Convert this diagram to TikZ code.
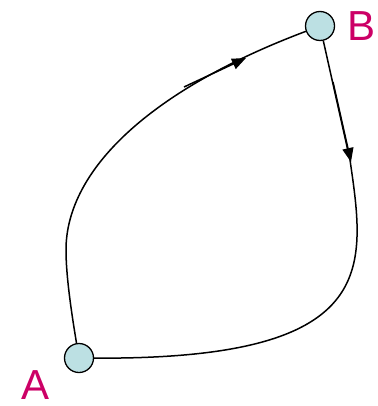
\documentclass[tikz,border=0pt]{standalone}
\usepackage{fontspec}
\setmainfont{Liberation Sans}
\usepackage{xcolor}
\usepackage{tikz}
\usetikzlibrary{arrows.meta,positioning}

\definecolor{vertfill}{HTML}{BCE0E3}
\definecolor{labelpink}{HTML}{CC0066}

\begin{document}
\begin{tikzpicture}[
      x=1pt, y=-1pt,
      vert/.style={draw, circle, fill=vertfill, line width=1.3pt, minimum size=29pt, inner sep=0pt},
      lbl/.style={text=labelpink, font=\fontsize{42}{42}\selectfont, inner sep=0pt},
      edge/.style={line width=1.5pt},
      arr/.style={-{Triangle[length=14pt, width=11pt]}, line width=1.5pt},
    ]
    \useasboundingbox (0,0) rectangle (377,406);
    \node[vert] (a) at (79,358) {};
    \node[vert] (b) at (320,26) {};
    \node[lbl, anchor=south east] (la) at (50,400) {A};
    \node[lbl, anchor=north west] (lb) at (347,11) {B};
    % bends of the two paths
    \coordinate (bendl) at (66,250);
    \coordinate (bendr) at (350,160);
    \draw[edge] (a) .. controls (71,310) and (66,275) .. (bendl)
      .. controls (66,170) and (150,90) .. (b);
    \draw[edge] (b) -- (bendr)
      .. controls (366,270) and (380,360) .. (a);
    % direction marks
    \coordinate (m1s) at (184,87);
    \coordinate (m1e) at (246,58);
    \coordinate (m2s) at (333,82);
    \coordinate (m2e) at (351,162);
    \draw[arr] (m1s) -- (m1e);
    \draw[arr] (m2s) -- (m2e);
  \end{tikzpicture}
\end{document}
